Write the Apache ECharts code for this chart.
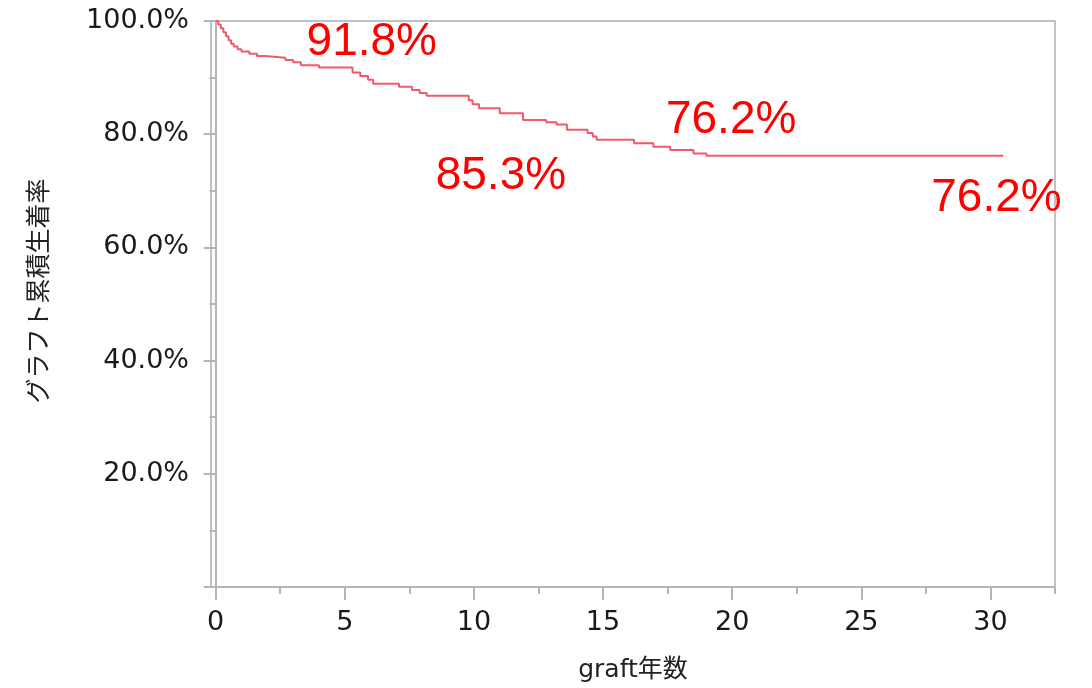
<!DOCTYPE html>
<html>
<head>
<meta charset="utf-8">
<script src="https://cdn.jsdelivr.net/npm/echarts@6/dist/echarts.min.js"></script>
<style>
html,body{margin:0;padding:0;background:#fff;}
#chart{width:1092px;height:688px;}
</style>
</head>
<body>
<div id="chart"></div>
<script>
// Kaplan-Meier style graft survival curve (time in years, cumulative survival %)
var times = [0, 0.1, 0.2, 0.3, 0.4, 0.5, 0.6, 0.7, 0.85, 1.0, 1.3, 1.6, 1.9, 2.7, 3.0, 3.3, 4.0, 5.3, 5.6, 5.9, 6.1, 7.1, 7.6, 7.9, 8.17, 9.8, 9.95, 10.2, 11.0, 11.9, 12.8, 13.2, 13.6, 14.4, 14.6, 14.75, 16.2, 16.95, 17.6, 18.5, 19.0, 30.5];
var survival = [100, 99.4, 98.7, 98.0, 97.3, 96.6, 96.0, 95.5, 95.0, 94.6, 94.2, 93.8, 93.5, 93.1, 92.7, 92.2, 91.8, 90.9, 90.3, 89.6, 88.9, 88.4, 87.8, 87.3, 86.8, 86.0, 85.3, 84.6, 83.7, 82.5, 82.1, 81.7, 80.8, 80.2, 79.6, 79.0, 78.4, 77.8, 77.2, 76.6, 76.2, 76.2];

// annotations
var annTimes = [5, 10, 20, 30];
var annValues = [91.8, 85.3, 76.2, 76.2];
var annLabels = ['91.8%', '85.3%', '76.2%', '76.2%'];

var xMajorTicks = [0, 5, 10, 15, 20, 25, 30];
var xMinorTicks = [2.5, 7.5, 12.5, 17.5, 22.5, 27.5, 32.5];

var xName = 'graft年数';
var yName = 'グラフト累積生着率';

var annOffsets = [[27, -25], [27, 72], [-1, -35], [6, 43]];

var curve = times.map(function (t, i) { return [t, survival[i]]; });
var ann = annTimes.map(function (t, i) {
  return { value: [t, annValues[i]], label: { offset: annOffsets[i], formatter: annLabels[i] } };
});

var axisGray = '#b5b5b5';
var textFont = '"DejaVu Sans", "Noto Sans CJK JP", sans-serif';

var chart = echarts.init(document.getElementById('chart'), null, { renderer: 'canvas' });
chart.setOption({
  animation: false,
  backgroundColor: '#fff',
  grid: {
    left: 211, top: 21, right: 37, bottom: 100,
    show: true, borderColor: '#c2c2c2', borderWidth: 2, backgroundColor: 'transparent'
  },
  xAxis: [{
    type: 'value',
    min: -0.18, max: 32.5,
    position: 'bottom',
    name: xName,
    nameLocation: 'middle',
    nameGap: 71,
    nameTextStyle: { fontSize: 25, color: '#222', fontFamily: textFont },
    axisLine: { show: true, lineStyle: { color: axisGray, width: 2 } },
    axisTick: { show: true, length: 13, customValues: xMajorTicks, lineStyle: { color: axisGray, width: 2 } },
    axisLabel: { show: true, customValues: xMajorTicks, margin: 22, fontSize: 27, color: '#1a1a1a', fontFamily: textFont },
    splitLine: { show: false }
  }, {
    type: 'value',
    min: -0.18, max: 32.5,
    position: 'bottom',
    axisLine: { show: false },
    axisTick: { show: true, length: 7, customValues: xMinorTicks, lineStyle: { color: axisGray, width: 2 } },
    axisLabel: { show: false },
    splitLine: { show: false }
  }],
  yAxis: {
    type: 'value',
    min: 0, max: 100, interval: 20,
    name: yName,
    nameLocation: 'middle',
    nameGap: 158,
    nameTextStyle: { fontSize: 25, color: '#222', fontFamily: textFont, padding: [0, 0, 0, 26] },
    axisLine: { show: true, lineStyle: { color: axisGray, width: 2 } },
    axisTick: { show: true, length: 12, lineStyle: { color: axisGray, width: 2 } },
    minorTick: { show: true, splitNumber: 2, length: 6, lineStyle: { color: axisGray, width: 2 } },
    axisLabel: {
      margin: 22, fontSize: 27, color: '#1a1a1a', fontFamily: textFont,
      formatter: function (v) { return v === 0 ? '' : v.toFixed(1) + '%'; }
    },
    splitLine: { show: false },
    minorSplitLine: { show: false }
  },
  series: [{
    type: 'line',
    step: 'end',
    data: curve,
    showSymbol: false,
    symbol: 'none',
    lineStyle: { color: '#ef5a6a', width: 2 },
    z: 3
  }, {
    type: 'scatter',
    data: ann,
    symbolSize: 0,
    silent: true,
    itemStyle: { opacity: 1 },
    label: {
      show: true,
      position: 'inside',
      align: 'center',
      verticalAlign: 'middle',
      fontSize: 46,
      color: '#ff0000',
      opacity: 1,
      fontFamily: '"Liberation Sans", Arial, sans-serif'
    },
    z: 5
  }]
});
</script>
</body>
</html>
